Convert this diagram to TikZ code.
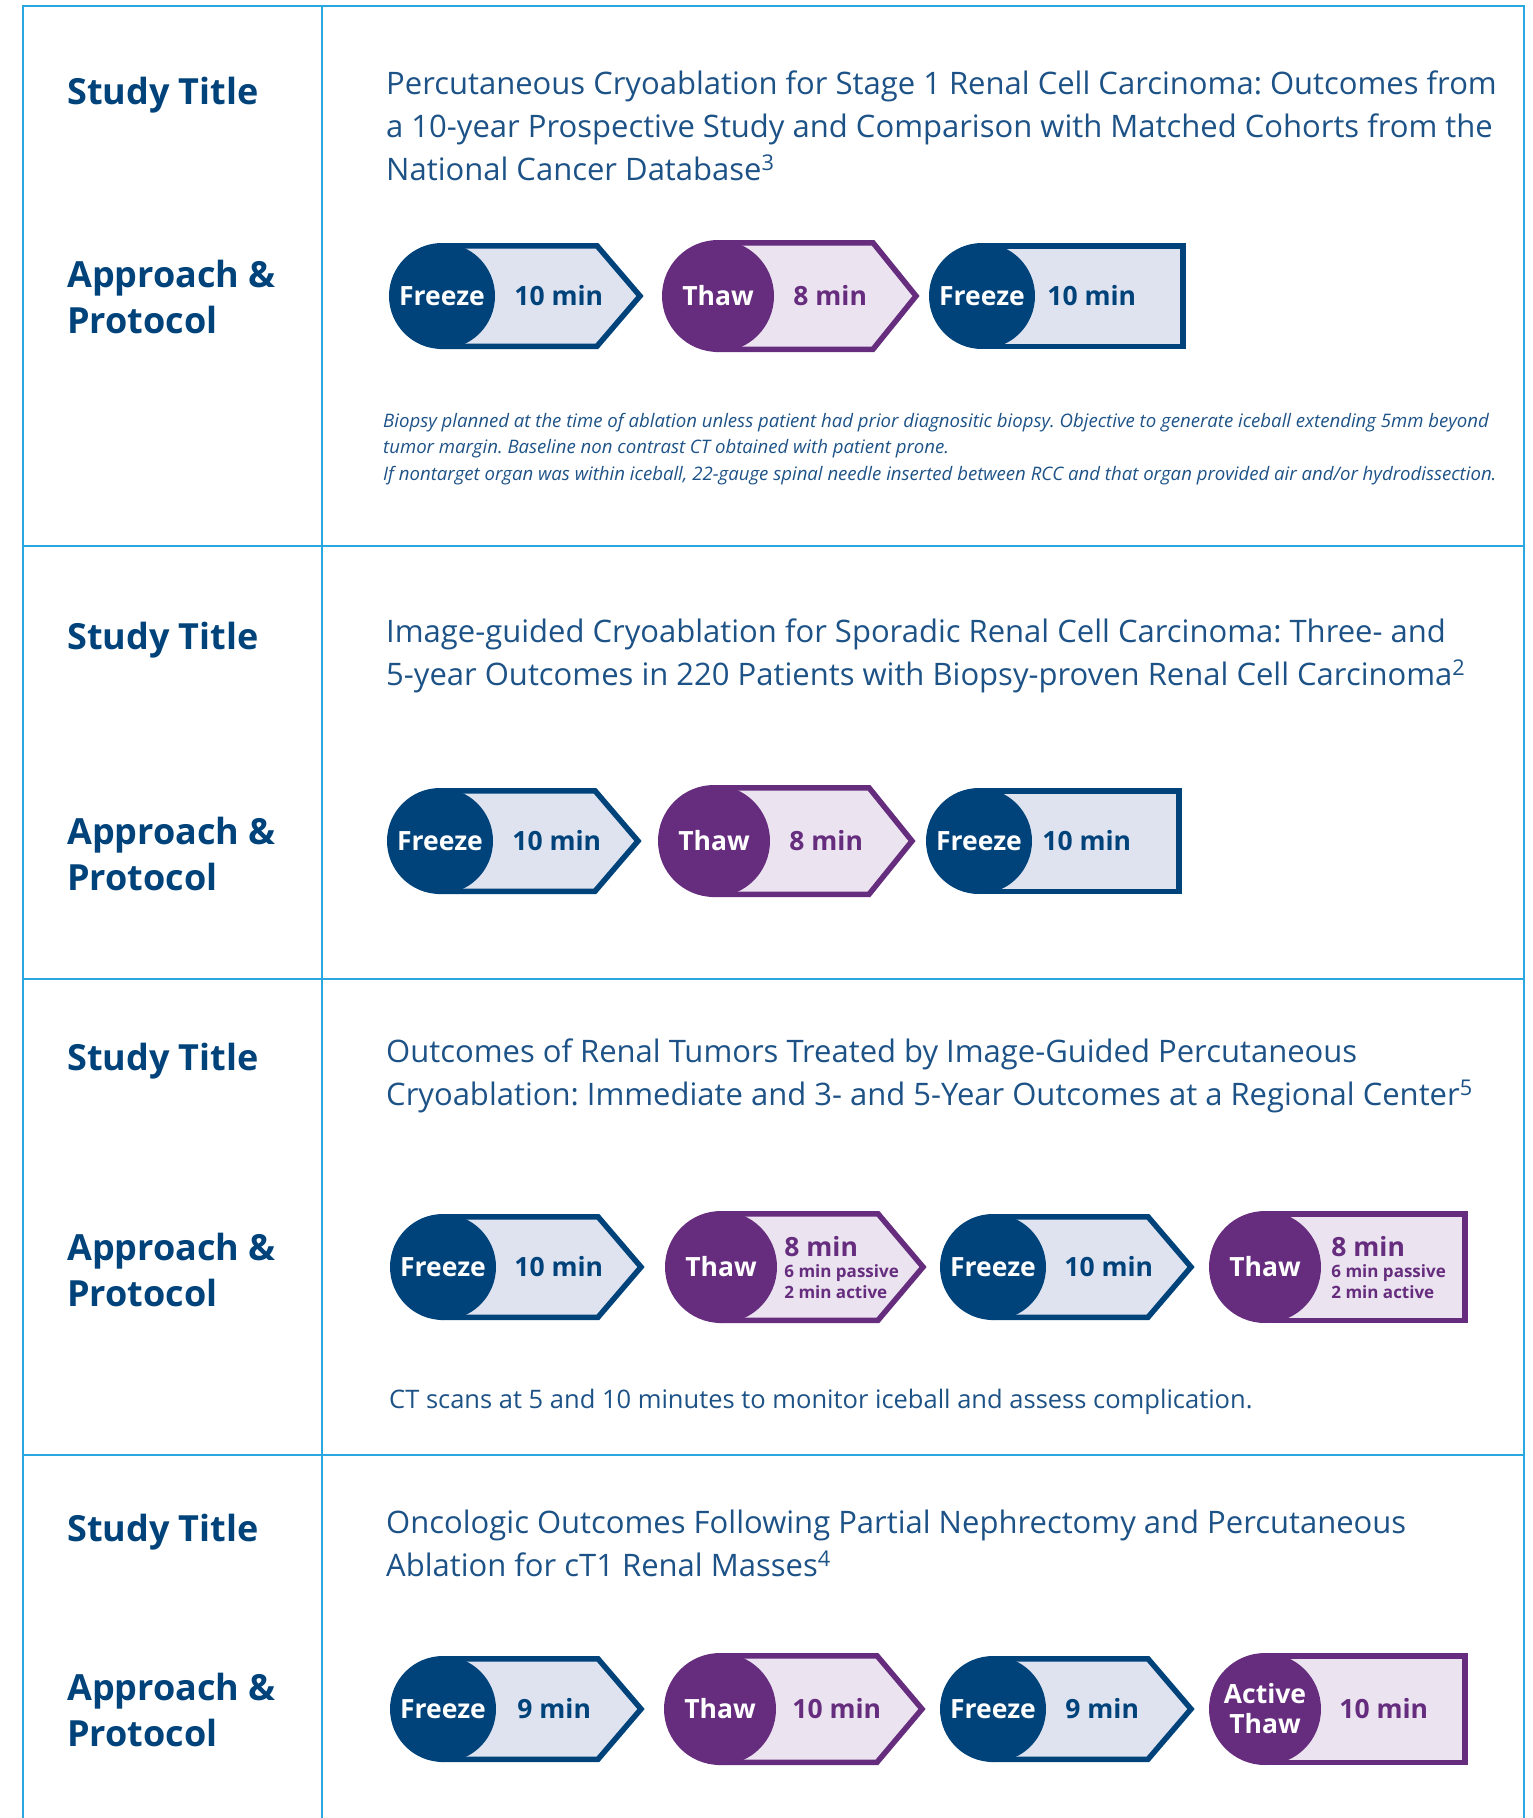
\documentclass[tikz,border=0pt]{standalone}
\usepackage{fontspec}
\setmainfont{Open Sans}
\usetikzlibrary{positioning,calc}
\frenchspacing

\definecolor{freeze}{HTML}{00427A}
\definecolor{freezelight}{HTML}{DFE3EF}
\definecolor{thaw}{HTML}{662D7E}
\definecolor{thawlight}{HTML}{EBE4F0}
\definecolor{ink}{HTML}{1D5287}
\definecolor{rule}{HTML}{2AA7E0}

\newcommand{\sublabel}{\fontsize{17}{21}\selectfont}

\begin{document}
\begin{tikzpicture}
            [
            x=1pt, y=1pt,
            grid/.style={draw=rule, line width=#1},
            grid/.default=2pt,
            head/.style={anchor=base west, inner sep=0pt, text=freeze,
                font=\fontsize{36}{46}\selectfont\bfseries, align=left},
            title/.style={anchor=base west, inner sep=0pt, text=ink,
                font=\fontsize{31}{43}\selectfont, align=left},
            note/.style={anchor=base west, inner sep=0pt, text=ink,
                font=\fontsize{18.6}{26.5}\selectfont\itshape, align=left},
            body/.style={draw=#1, fill=#1light, line width=5.5pt},
            dot/.style={circle, fill=#1, inner sep=0pt, text=white,
                font=\fontsize{26.5}{30}\selectfont\bfseries, align=center},
            time/.style={inner sep=0pt, text=#1,
                font=\fontsize{26.5}{21}\selectfont\bfseries, align=left}
            ]
            \useasboundingbox (0,0) rectangle (1532,-1818);

            % Table rules
            \draw [grid] (23,-1818) -- (23,-6) -- (1524,-6) -- (1524,-1818);
            \draw [grid] (322,-6) -- (322,-1818);
            \foreach \y in {546,979,1455}
            \draw [grid=2.6pt] (23,-\y) -- (1524,-\y);

            % Left column (base = last line)
            \foreach \i/\a/\b in {1/104/333,2/649/890,3/1070/1306,4/1541/1746}
            {
            \node (study\i) [head] at (67,-\a) {Study Title};
            \node (proto\i) [head] at (67,-\b) {Approach \&\\Protocol};
            }

            % Study titles
            \node (title1) [title] at (386,-180)
                {Percutaneous Cryoablation for Stage 1 Renal Cell Carcinoma: Outcomes from\\
                 a 10-year Prospective Study and Comparison with Matched Cohorts from the\\
                 National Cancer Database\textsuperscript{3}};
            \node (title2) [title] at (386,-685)
                {Image-guided Cryoablation for Sporadic Renal Cell Carcinoma: Three- and\\
                 5-year Outcomes in 220 Patients with Biopsy-proven Renal Cell Carcinoma\textsuperscript{2}};
            \node (title3) [title] at (386,-1105)
                {Outcomes of Renal Tumors Treated by Image-Guided Percutaneous\\
                 Cryoablation: Immediate and 3- and 5-Year Outcomes at a Regional Center\textsuperscript{5}};
            \node (title4) [title] at (386,-1576)
                {Oncologic Outcomes Following Partial Nephrectomy and Percutaneous\\
                 Ablation for cT1 Renal Masses\textsuperscript{4}};

            % Notes
            \node (note1) [note] at (383,-480)
                {Biopsy planned at the time of ablation unless patient had prior diagnositic biopsy. Objective to generate iceball extending 5mm beyond\\
                 tumor margin. Baseline non contrast CT obtained with patient prone.\\
                 If nontarget organ was within iceball, 22-gauge spinal needle inserted between RCC and that organ provided air and/or hydrodissection.};
            \node (note3) [title, font=\fontsize{25.5}{30}\selectfont] at (389,-1408)
                {CT scans at 5 and 10 minutes to monitor iceball and assess complication.};

            % Protocol steps
            \foreach \r/\y/\i/\x/\kind/\h/\word/\time/\len/\tip/\gap in
                {a/296/1/442/freeze/53/Freeze/10 min/155/43/19,
                 a/296/2/718/thaw/56/Thaw/8 min/155/43/19,
                 a/296/3/982/freeze/53/Freeze/10 min/201/0/12,
                 b/841/1/440/freeze/53/Freeze/10 min/155/43/19,
                 b/841/2/714/thaw/56/Thaw/8 min/155/43/19,
                 b/841/3/979/freeze/53/Freeze/10 min/200/0/10,
                 c/1267/1/443/freeze/53/Freeze/10 min/155/43/18,
                 c/1267/2/721/thaw/56/Thaw/{8 min\\{\sublabel 6 min passive}\\{\sublabel 2 min active}}/157/45/7,
                 c/1267/3/993/freeze/53/Freeze/10 min/155/43/18,
                 c/1267/4/1265/thaw/56/Thaw/{8 min\\{\sublabel 6 min passive}\\{\sublabel 2 min active}}/200/0/10,
                 d/1709/1/443/freeze/53/Freeze/9 min/155/43/21,
                 d/1709/2/720/thaw/56/Thaw/10 min/157/45/16,
                 d/1709/3/993/freeze/53/Freeze/9 min/155/43/19,
                 d/1709/4/1265/thaw/56/{Active\\Thaw}/10 min/200/0/18}
            {
            \coordinate (c\r\i) at (\x,-\y);
            \draw [body=\kind, shift={(c\r\i)}]
                (0,\h-2.75) -- (\len,\h-2.75) -- (\len+\tip,0)
                -- (\len,2.75-\h) -- (0,2.75-\h) -- cycle;
            \node (s\r\i) [dot=\kind, minimum size=2*\h] at (c\r\i) {\word};
            \node (m\r\i) [time=\kind, right=\gap pt of s\r\i] {\time};
            }
        \end{tikzpicture}
\end{document}
